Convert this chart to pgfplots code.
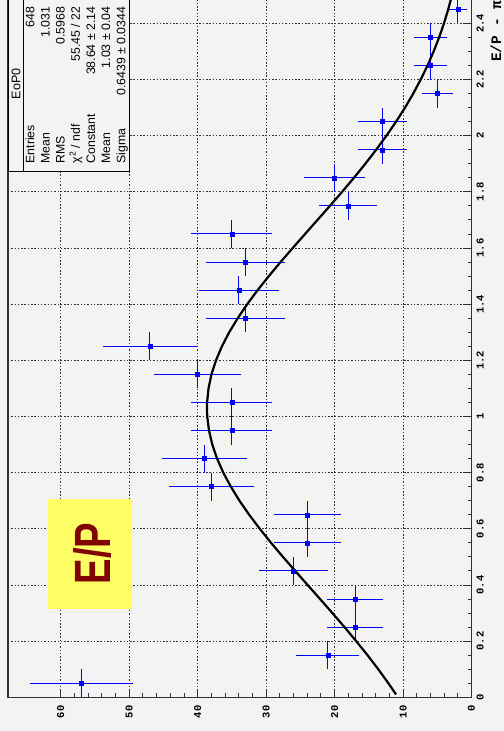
\documentclass[border=0pt]{standalone}
\usepackage{pgfplots}
\usepackage{pgfplotstable}
\pgfplotsset{compat=1.18}
\usepackage{fontspec}
\setmainfont{Liberation Sans}
\newfontfamily\tickfont{Liberation Mono}

\definecolor{canvas}{HTML}{F3F3F3}
\definecolor{labelyellow}{HTML}{FFFF66}
\definecolor{labelred}{HTML}{800000}
\definecolor{framegray}{HTML}{333333}

% E/P histogram: bin centre, entries, sqrt(N) error, half bin width
\pgfplotstableread{
ep    n   en     ee
0.05  57  7.550  0.05
0.15  21  4.583  0.05
0.25  17  4.123  0.05
0.35  17  4.123  0.05
0.45  26  5.099  0.05
0.55  24  4.899  0.05
0.65  24  4.899  0.05
0.75  38  6.164  0.05
0.85  39  6.245  0.05
0.95  35  5.916  0.05
1.05  35  5.916  0.05
1.15  40  6.325  0.05
1.25  47  6.856  0.05
1.35  33  5.745  0.05
1.45  34  5.831  0.05
1.55  33  5.745  0.05
1.65  35  5.916  0.05
1.75  18  4.243  0.05
1.85  20  4.472  0.05
1.95  13  3.606  0.05
2.05  13  3.606  0.05
2.15  5   2.236  0.05
2.25  6   2.449  0.05
2.35  6   2.449  0.05
2.45  2   1.414  0.05
}\eopdata

% Gaussian fit (Constant 38.64, Mean 1.03, Sigma 0.6439), sampled
\pgfplotstableread{
n      ep
11.02  0.01
12.14  0.05
13.62  0.10
15.19  0.15
16.84  0.20
18.55  0.25
20.32  0.30
22.12  0.35
23.94  0.40
25.75  0.45
27.54  0.50
29.27  0.55
30.92  0.60
32.47  0.65
33.89  0.70
35.15  0.75
36.25  0.80
37.16  0.85
37.86  0.90
38.34  0.95
38.60  1.00
38.64  1.03
38.62  1.05
38.41  1.10
37.98  1.15
37.32  1.20
36.45  1.25
35.39  1.30
34.15  1.35
32.76  1.40
31.24  1.45
29.60  1.50
27.89  1.55
26.11  1.60
24.31  1.65
22.49  1.70
20.68  1.75
18.90  1.80
17.17  1.85
15.51  1.90
13.92  1.95
12.42  2.00
11.02  2.05
9.71   2.10
8.51   2.15
7.42   2.20
6.42   2.25
5.53   2.30
4.73   2.35
4.02   2.40
3.40   2.45
2.85   2.50
}\fitdata

\begin{document}
\begin{tikzpicture}[x=1bp,y=1bp]
\fill[canvas] (0,0) rectangle (504,731);
\clip (0,0) rectangle (504,731);
\begin{axis}[
  at={(239.75bp,384.7bp)}, anchor=center,
  scale only axis, width=463.5bp, height=702bp,
  x dir=reverse,
  xmin=0, xmax=67.7, ymin=0, ymax=2.5,
  xtick={0,10,20,30,40,50,60},
  ytick={0,0.2,0.4,0.6,0.8,1,1.2,1.4,1.6,1.8,2,2.2,2.4},
  minor x tick num=4, minor y tick num=3,
  xtick pos=bottom, xticklabel pos=bottom,
  ytick pos=right, yticklabel pos=right,
  tick align=inside,
  major tick length=8bp, minor tick length=4bp,
  tick style={framegray, line width=0.9bp},
  axis line style={framegray, line width=1.2bp},
  grid=major,
  major grid style={black!80, line width=0.75bp, dash pattern=on 1.5bp off 1.8bp},
  /pgf/number format/assume math mode=true,
  ticklabel style={font=\tickfont\bfseries\fontsize{10.5bp}{11bp}\selectfont},
  xticklabel style={rotate=90, anchor=east, inner xsep=8bp, inner ysep=0pt},
  yticklabel style={rotate=90, anchor=north, inner ysep=5bp, inner xsep=0pt},
]
\addplot[blue, only marks, mark=square*, mark size=2bp,
  error bars/.cd, x dir=both, x explicit, y dir=both, y explicit,
  error mark=none, error bar style={blue, line width=1bp}]
  table[x=n, y=ep, x error=en, y error=ee]{\eopdata};
\addplot[black, line width=2.2bp, no marks] table[x=n, y=ep]{\fitdata};
\end{axis}

% axis title (runs along the E/P axis)
\node[rotate=90, anchor=base west, inner sep=0pt,
  font=\tickfont\bfseries\fontsize{14.5bp}{15bp}\selectfont]
  at (501,669) {E/P - π};

% statistics box
\draw[black, line width=1bp, fill=canvas] (8,559.3) rectangle (129.3,736);
\draw[black, line width=1bp] (23.3,559.3) -- (23.3,736);
\node[rotate=90, anchor=center, inner sep=0pt,
  font=\fontsize{12.5bp}{14bp}\selectfont] at (16,647) {EoP0};
\begin{scope}[every node/.style={rotate=90, inner sep=0pt,
    font=\fontsize{12.3bp}{14bp}\selectfont}]
  \node[anchor=base west] at (34.4,567.5) {Entries};
  \node[anchor=base east] at (34.4,724.5) {648};
  \node[anchor=base west] at (49.6,567.5) {Mean};
  \node[anchor=base east] at (49.6,724.5) {1.031};
  \node[anchor=base west] at (64.7,567.5) {RMS};
  \node[anchor=base east] at (64.7,724.5) {0.5968};
  \node[anchor=base west] at (79.9,567.5) {χ\textsuperscript{2} / ndf};
  \node[anchor=base east] at (79.9,724.5) {55.45 / 22};
  \node[anchor=base west] at (95.0,567.5) {Constant};
  \node[anchor=base east] at (95.0,724.5) {38.64 ± 2.14};
  \node[anchor=base west] at (110.2,567.5) {Mean};
  \node[anchor=base east] at (110.2,724.5) {1.03 ± 0.04};
  \node[anchor=base west] at (125.4,567.5) {Sigma};
  \node[anchor=base east] at (125.4,724.5) {0.6439 ± 0.0344};
\end{scope}

% E/P label
\fill[labelyellow] (47.7,122) rectangle (131.7,232);
\node[rotate=90, anchor=base, inner sep=0pt, text=labelred,
  font=\bfseries\fontsize{51bp}{51bp}\selectfont]
  at (110,177.5) {\scalebox{0.75}[1]{E/P}};
\end{tikzpicture}
\end{document}
